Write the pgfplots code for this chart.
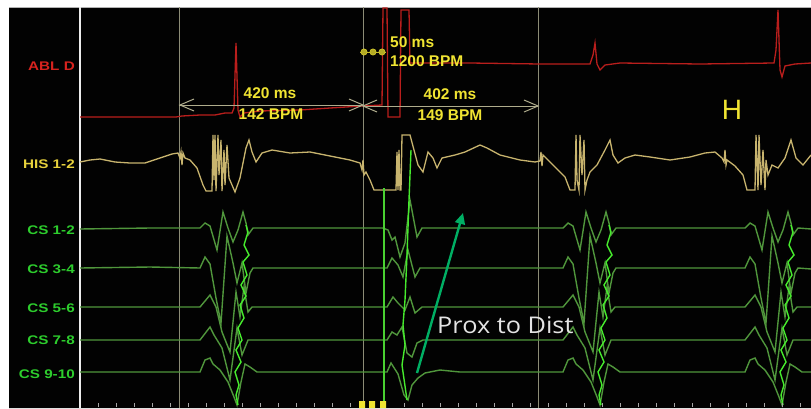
\documentclass[border=0pt]{standalone}
\usepackage{fontspec}
\setmainfont{Liberation Sans}
\newfontfamily\opensans{Open Sans}
\usepackage{graphicx}
\usepackage{pgfplots}
\pgfplotsset{compat=1.18}
\usetikzlibrary{arrows.meta}
\definecolor{bgblack}{RGB}{2,2,2}
\definecolor{ablred}{RGB}{185,30,28}
\definecolor{lblred}{RGB}{215,35,30}
\definecolor{histan}{RGB}{200,180,110}
\definecolor{ytext}{RGB}{240,228,50}
\definecolor{lblyel}{RGB}{232,210,60}
\definecolor{csgreen}{RGB}{80,150,60}
\definecolor{brgreen}{RGB}{70,235,45}
\definecolor{lblgreen}{RGB}{45,205,45}
\definecolor{arrowteal}{RGB}{0,175,100}
\definecolor{vgray}{RGB}{140,140,118}
\definecolor{calgray}{RGB}{175,172,140}
\definecolor{txtgray}{RGB}{228,228,228}
\newcommand{\lbl}[1]{\scalebox{1.22}[1.0]{#1}}
\begin{document}
\begin{tikzpicture}
\begin{axis}[scale only axis, width=811pt, height=408pt,
  xmin=0, xmax=811, ymin=0, ymax=408, y dir=reverse,
  hide axis, enlargelimits=false, clip=true]
% background
\addplot[fill=white, draw=none] coordinates {(0,0) (811,0) (811,408) (0,408) (0,0)};
\addplot[fill=bgblack, draw=none] coordinates {(9,7) (811,7) (811,408) (9,408) (9,7)};
\addplot[color=gray!60, line width=1pt] coordinates {(9,7) (811,7)};
% panel border
\addplot[color=white!85!gray, line width=1.6pt] coordinates {(80,7) (80,408)};
% vertical time lines
\addplot[color=vgray, line width=1pt] coordinates {(179,7) (179,408)};
\addplot[color=vgray, line width=1pt] coordinates {(363,7) (363,408)};
\addplot[color=vgray, line width=1pt] coordinates {(538,7) (538,408)};
% bottom ticks
\addplot[only marks, mark=|, mark size=2, color=gray!70] coordinates {(98,405) (116,405) (134,405) (152,405) (170,405) (188,405) (206,405) (224,405) (242,405) (260,405) (278,405) (296,405) (314,405) (332,405) (350,405) (404,405) (422,405) (440,405) (458,405) (476,405) (494,405) (512,405) (530,405) (548,405) (566,405) (584,405) (602,405) (620,405) (638,405) (656,405) (674,405) (692,405) (710,405) (728,405) (746,405) (764,405) (782,405) (800,405)};
% ABL D
\addplot[color=ablred, line width=1.3pt] coordinates {(80,117) (150,117) (176,117) (182,116) (200,115) (215,115) (225,113) (232,113) (234,108) (236,43) (238,110) (240,117) (244,113) (260,111) (300,110) (330,108) (362,106) (382,105) (383,8) (387,8) (388,117) (400,117) (401,10) (409,10) (410,63) (470,63) (540,64) (590,64) (593,55) (595,43) (597,64) (600,70) (605,65) (620,63) (700,64) (774,63) (776,50) (778,10) (780,70) (782,77) (785,66) (795,64) (811,63)};
% HIS 1-2
\addplot[color=histan, line width=1.3pt] coordinates {(80,162) (90,160) (100,159) (115,162) (130,163) (145,163) (160,158) (172,154) (178,153) (180,158) (181,152) (182,165) (183,153) (185,158) (190,160) (197,168) (203,185) (206,191) (212,191) (213,135) (214,180) (215,135) (216,191) (218,135) (219,175) (221,140) (222,191) (224,150) (225,185) (227,145) (229,178) (232,185) (235,192) (240,178) (246,148) (249,140) (252,152) (256,162) (262,153) (272,150) (290,153) (310,152) (330,156) (350,160) (360,163) (362,170) (363,160) (364,175) (366,172) (370,180) (374,190) (396,190) (397,152) (398,190) (399,150) (400,190) (401,190) (402,135) (410,135) (414,150) (418,165) (423,172) (428,152) (433,158) (437,168) (442,158) (455,155) (465,152) (480,145) (487,148) (500,155) (520,160) (535,162) (540,161) (541,152) (542,166) (543,155) (548,160) (555,167) (565,177) (570,190) (575,190) (576,135) (577,180) (579,190) (580,135) (582,175) (584,140) (585,190) (587,180) (590,172) (597,165) (605,150) (610,140) (613,155) (618,163) (625,158) (635,155) (650,157) (670,160) (690,157) (705,153) (715,152) (722,158) (724,162) (725,150) (726,165) (727,160) (735,166) (743,175) (747,190) (755,190) (756,135) (758,190) (759,135) (761,185) (763,150) (765,190) (766,160) (768,175) (772,165) (778,168) (785,158) (791,140) (796,158) (803,165) (811,155)};
% CS 1-2
\addplot[color=csgreen, line width=1.4pt] coordinates {(80,229) (150,228) (200,228) (205,223) (210,226) (217,250) (223,212) (228,228) (233,242) (238,230) (243,212) (246,223) (248,235) (253,228) (300,228) (360,228) (383,228) (388,230) (392,240) (395,237) (400,257) (405,243) (410,200) (417,237) (422,228) (480,228) (563,228) (568,223) (573,226) (580,250) (586,212) (591,228) (596,242) (601,230) (606,212) (609,223) (611,235) (616,228) (700,228) (745,228) (750,223) (755,226) (762,250) (768,212) (773,228) (778,242) (783,230) (788,212) (791,223) (793,235) (798,228) (811,229)};
% CS 3-4
\addplot[color=csgreen, line width=1.4pt] coordinates {(80,268) (150,267) (200,268) (205,257) (210,264) (216,298) (221,323) (227,236) (233,263) (237,283) (242,263) (246,293) (250,273) (253,268) (300,268) (383,268) (387,268) (392,258) (398,265) (403,277) (408,250) (415,277) (420,268) (480,268) (563,268) (568,257) (573,264) (579,298) (584,323) (590,236) (596,263) (600,283) (605,263) (609,293) (613,273) (616,268) (700,268) (745,268) (750,257) (755,264) (761,298) (766,323) (772,236) (778,263) (782,283) (787,263) (791,293) (795,273) (798,268) (811,269)};
% CS 5-6
\addplot[color=csgreen, line width=1.4pt] coordinates {(80,307) (150,307) (200,307) (210,295) (216,307) (222,332) (230,352) (236,292) (240,317) (244,287) (248,312) (252,307) (300,307) (383,307) (387,307) (393,297) (398,303) (405,310) (410,297) (415,313) (422,307) (480,307) (563,307) (573,295) (579,307) (585,332) (593,352) (599,292) (603,317) (607,287) (611,312) (615,307) (700,307) (745,307) (755,295) (761,307) (767,332) (775,352) (781,292) (785,317) (789,287) (793,312) (797,307) (811,307)};
% CS 7-8
\addplot[color=csgreen, line width=1.4pt] coordinates {(80,340) (150,340) (200,340) (210,327) (214,335) (222,348) (230,380) (237,328) (242,355) (248,340) (300,340) (383,340) (387,340) (392,332) (397,335) (402,327) (407,353) (412,357) (417,343) (423,340) (480,340) (563,340) (573,327) (577,335) (585,348) (593,380) (600,328) (605,355) (611,340) (700,340) (745,340) (755,327) (759,335) (767,348) (775,380) (782,328) (787,355) (793,340) (811,340)};
% CS 9-10
\addplot[color=csgreen, line width=1.4pt] coordinates {(80,372) (150,372) (200,372) (205,360) (210,358) (213,364) (220,370) (228,382) (234,397) (237,405) (241,382) (245,364) (250,367) (257,372) (300,372) (383,372) (387,372) (391,363) (398,374) (404,395) (408,400) (412,385) (418,378) (425,373) (440,370) (460,372) (563,372) (568,360) (573,358) (576,364) (583,370) (591,382) (597,397) (600,405) (604,382) (608,364) (613,367) (620,372) (700,372) (745,372) (750,360) (755,358) (758,364) (765,370) (773,382) (779,397) (782,405) (786,382) (790,364) (795,367) (802,372) (811,372)};
% bright green overlays
\addplot[color=brgreen, line width=1.4pt] coordinates {(246,225) (248,232) (244,245) (249,255) (243,262) (247,275) (241,285) (246,296) (240,305) (244,318) (238,328) (242,340) (236,350) (241,362) (235,372) (239,385) (236,395) (238,405)};
\addplot[color=brgreen, line width=1.4pt] coordinates {(609,225) (611,232) (607,245) (612,255) (606,262) (610,275) (604,285) (609,296) (603,305) (607,318) (601,328) (605,340) (599,350) (604,362) (598,372) (602,385) (599,395) (601,405)};
\addplot[color=brgreen, line width=1.4pt] coordinates {(791,225) (793,232) (789,245) (794,255) (788,262) (792,275) (786,285) (791,296) (785,305) (789,318) (783,328) (787,340) (781,350) (786,362) (780,372) (784,385) (781,395) (783,405)};
\addplot[color=brgreen, line width=1.4pt] coordinates {(411,150) (409,200) (407,255) (405,300) (403,325) (405,345) (402,365) (407,400)};
\addplot[color=brgreen!70!csgreen, line width=1.1pt] coordinates {(384,188) (384,408)};
% calipers
\addplot[color=calgray, line width=1pt] coordinates {(179,105) (363,105)};
\addplot[color=calgray, line width=1pt] coordinates {(363,106) (538,106)};
\addplot[color=calgray, line width=1pt] coordinates {(194,99) (180,105) (194,111)};
\addplot[color=calgray, line width=1pt] coordinates {(349,99) (363,105) (349,111)};
\addplot[color=calgray, line width=1pt] coordinates {(377,100) (363,106) (377,112)};
\addplot[color=calgray, line width=1pt] coordinates {(524,100) (538,106) (524,112)};
% yellow beads
\addplot[color=ytext!80!black, line width=1pt] coordinates {(360,52) (386,52)};
\addplot[only marks, mark=*, mark size=3.2pt, color=ytext, mark options={fill=ytext!75!black, draw=ytext}] coordinates {(364,52) (373,52) (382,52)};
% yellow stim squares
\addplot[fill=ytext, draw=none] coordinates {(359,401) (365,401) (365,408) (359,408) (359,401)};
\addplot[fill=ytext, draw=none] coordinates {(369,401) (375,401) (375,408) (369,408) (369,401)};
\addplot[fill=ytext, draw=none] coordinates {(380,401) (386,401) (386,408) (380,408) (380,401)};
% arrow
\addplot[color=arrowteal, line width=2.4pt, -{Triangle[length=11pt,width=10pt]}] coordinates {(417,373) (463,213)};
% channel labels
\node[anchor=east, inner sep=0pt, text=lblred, font=\fontsize{12.5}{13}\selectfont\bfseries] at (axis cs:75,66) {\lbl{ABL D}};
\node[anchor=east, inner sep=0pt, text=lblyel, font=\fontsize{12.5}{13}\selectfont\bfseries] at (axis cs:75,164) {\lbl{HIS 1-2}};
\node[anchor=east, inner sep=0pt, text=lblgreen, font=\fontsize{12.5}{13}\selectfont\bfseries] at (axis cs:75,230) {\lbl{CS 1-2}};
\node[anchor=east, inner sep=0pt, text=lblgreen, font=\fontsize{12.5}{13}\selectfont\bfseries] at (axis cs:75,269) {\lbl{CS 3-4}};
\node[anchor=east, inner sep=0pt, text=lblgreen, font=\fontsize{12.5}{13}\selectfont\bfseries] at (axis cs:75,308) {\lbl{CS 5-6}};
\node[anchor=east, inner sep=0pt, text=lblgreen, font=\fontsize{12.5}{13}\selectfont\bfseries] at (axis cs:75,340) {\lbl{CS 7-8}};
\node[anchor=east, inner sep=0pt, text=lblgreen, font=\fontsize{12.5}{13}\selectfont\bfseries] at (axis cs:75,374) {\lbl{CS 9-10}};
% caliper texts
\node[inner sep=0pt, text=ytext, font=\fontsize{15.5}{16}\selectfont\bfseries] at (axis cs:270,93) {420 ms};
\node[inner sep=0pt, text=ytext, font=\fontsize{15.5}{16}\selectfont\bfseries] at (axis cs:271,114) {142 BPM};
\node[inner sep=0pt, text=ytext, font=\fontsize{15.5}{16}\selectfont\bfseries] at (axis cs:450,94) {402 ms};
\node[inner sep=0pt, text=ytext, font=\fontsize{15.5}{16}\selectfont\bfseries] at (axis cs:450,115) {149 BPM};
\node[anchor=west, inner sep=0pt, text=ytext, font=\fontsize{15.5}{16}\selectfont\bfseries] at (axis cs:390,42) {50 ms};
\node[anchor=west, inner sep=0pt, text=ytext, font=\fontsize{15.5}{16}\selectfont\bfseries] at (axis cs:390,61) {1200 BPM};
\node[inner sep=0pt, text=ytext, font=\fontsize{28}{28}\selectfont] at (axis cs:732,110) {H};
\node[anchor=west, inner sep=0pt, text=txtgray, font=\opensans\fontsize{23}{24}\selectfont] at (axis cs:437,325) {\scalebox{1.1}[1.0]{Prox to Dist}};
\end{axis}
\end{tikzpicture}
\end{document}
